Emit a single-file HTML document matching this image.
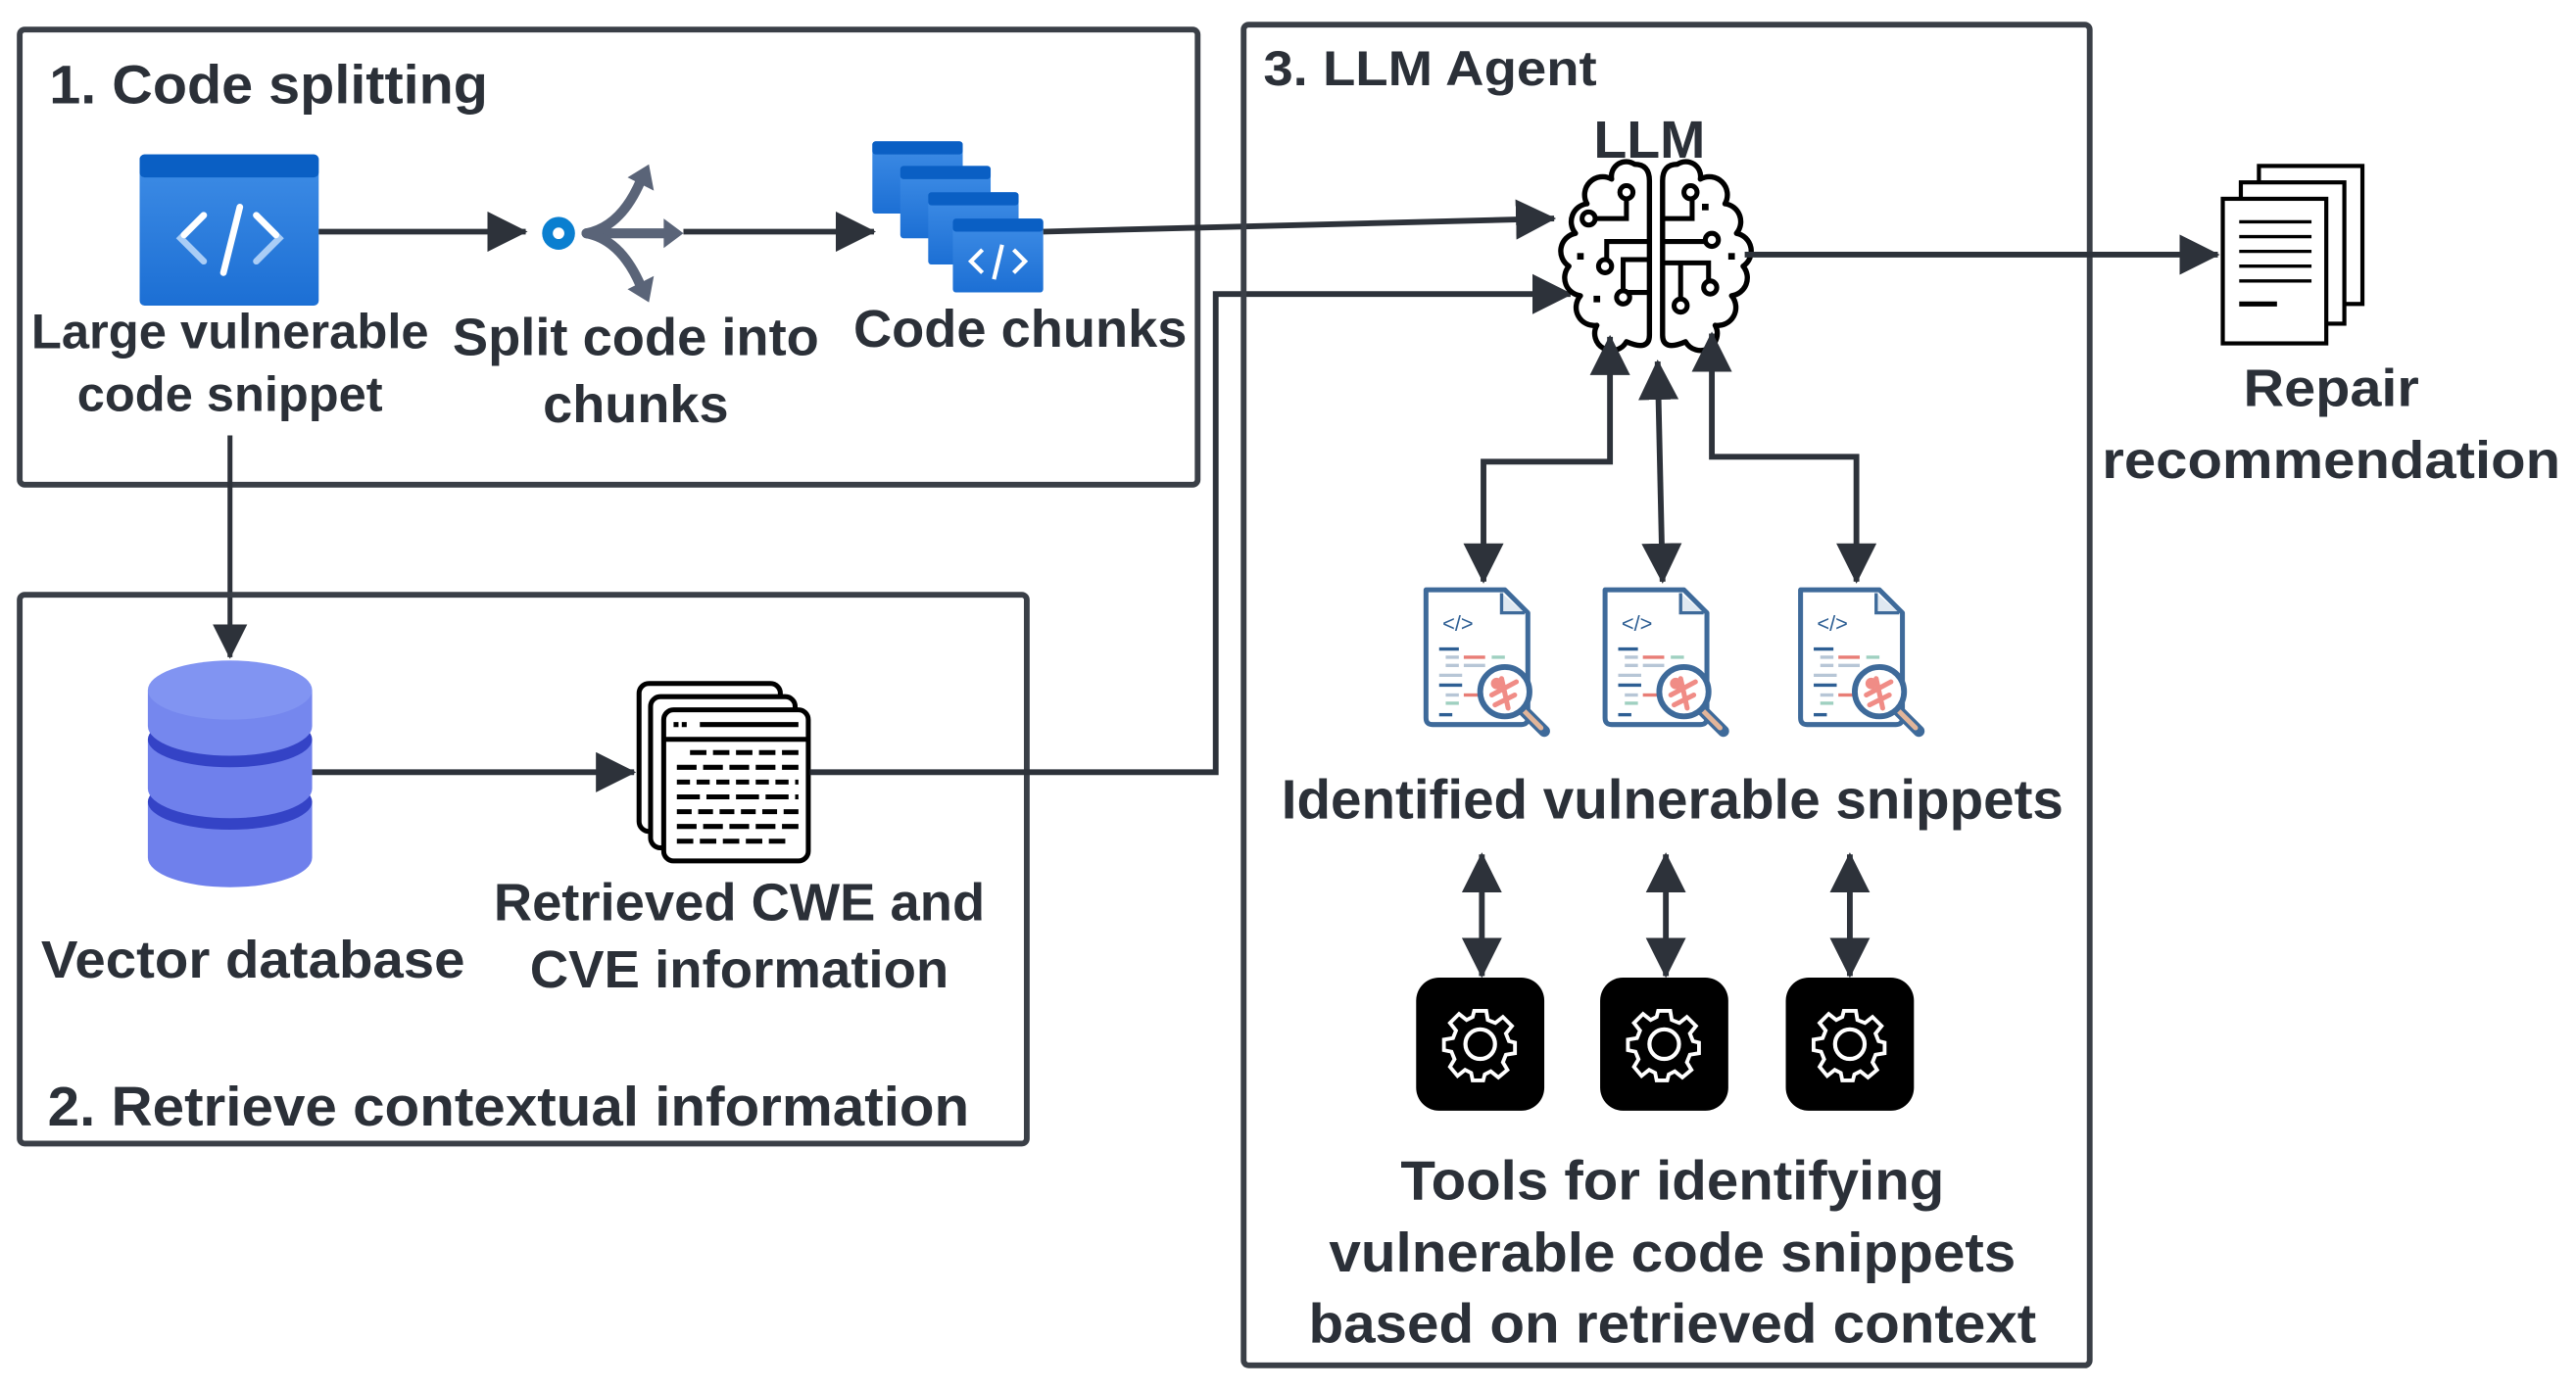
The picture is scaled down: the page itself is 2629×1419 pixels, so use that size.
<!DOCTYPE html>
<html><head><meta charset="utf-8"><style>
html,body{margin:0;padding:0;background:#fff;width:2629px;height:1419px;overflow:hidden}
svg{display:block}
text{font-family:"Liberation Sans",Arial,sans-serif;font-weight:bold;fill:#2b3038}
</style></head><body>
<svg width="2629" height="1419" viewBox="0 0 1568 846" preserveAspectRatio="none" xmlns="http://www.w3.org/2000/svg">
<defs>
<marker id="ah" viewBox="0 0 20 20" refX="19" refY="10" markerWidth="7" markerHeight="7" orient="auto-start-reverse" markerUnits="strokeWidth">
<path d="M0,0 L20,10 L0,20 Z" fill="#2d323a"/></marker>
<linearGradient id="bl" x1="0" y1="0" x2="0" y2="1"><stop offset="0" stop-color="#3f8de6"/><stop offset="1" stop-color="#1c6fd4"/></linearGradient>
<g id="win">
<rect x="0" y="0" width="55" height="44" rx="2" fill="url(#bl)"/>
<rect x="0" y="0" width="55" height="8" rx="2" fill="#0a5fc4"/>
</g>
<g id="vdoc">
<path d="M2,2 H50 L64,16 V80 Q64,84 60,84 H6 Q2,84 2,80 Z" fill="#fff" stroke="#3e6a9a" stroke-width="3" stroke-linejoin="round"/>
<path d="M48,4 V16 H62" fill="#dfe8f1" stroke="#3e6a9a" stroke-width="2"/>
<text x="12" y="27" style="font-size:13px;fill:#2e5f94;font-weight:normal">&lt;/&gt;</text>
<g stroke-width="2">
<line x1="10" y1="38" x2="22" y2="38" stroke="#2e5f94"/>
<line x1="14" y1="43" x2="22" y2="43" stroke="#b7c6d6"/><line x1="25" y1="43" x2="38" y2="43" stroke="#e87d76"/><line x1="42" y1="43" x2="50" y2="43" stroke="#9fd0c0"/>
<line x1="14" y1="48" x2="22" y2="48" stroke="#b7c6d6"/><line x1="25" y1="48" x2="38" y2="48" stroke="#b7c6d6"/>
<line x1="10" y1="54" x2="24" y2="54" stroke="#b7c6d6"/>
<line x1="10" y1="60" x2="24" y2="60" stroke="#2e5f94"/>
<line x1="14" y1="66" x2="22" y2="66" stroke="#b7c6d6"/><line x1="25" y1="66" x2="34" y2="66" stroke="#e87d76"/>
<line x1="14" y1="71" x2="22" y2="71" stroke="#9fd0c0"/>
<line x1="10" y1="78" x2="18" y2="78" stroke="#2e5f94"/>
</g>
<line x1="60" y1="74" x2="74" y2="88" stroke="#3e6a9a" stroke-width="7" stroke-linecap="round"/>
<line x1="62" y1="76" x2="72" y2="86" stroke="#e2b59a" stroke-width="3" stroke-linecap="round"/>
<circle cx="50" cy="64" r="15" fill="#fff" stroke="#3e6a9a" stroke-width="3.5"/>
<g stroke="#f08c86" stroke-width="3" stroke-linecap="round"><line x1="42" y1="66" x2="57" y2="58"/><line x1="48" y1="56" x2="52" y2="74"/><line x1="44" y1="72" x2="56" y2="66"/></g>
<circle cx="45" cy="59" r="3.5" fill="#f08c86"/>
</g>
<g id="gear">
<rect x="0" y="0" width="78" height="81" rx="14" fill="#000"/>
<g transform="translate(39,40.5)" fill="none" stroke="#fff" stroke-width="2.5">
<path d="M-4,-22 H4 L5,-16 L10,-14 L15,-18 L21,-12 L17,-7 L19,-2 L23,-1 V6 L17,7 L15,12 L18,17 L12,22 L7,18 L3,20 L2,24 H-5 L-6,19 L-10,17 L-15,21 L-20,15 L-17,10 L-19,5 L-24,4 V-3 L-18,-4 L-16,-9 L-20,-14 L-14,-20 L-9,-16 L-5,-18 Z" transform="scale(0.92)"/>
<circle r="9"/>
</g>
</g>
</defs>

<!-- Box 1 -->
<rect x="12" y="18" width="717" height="277" rx="3" fill="none" stroke="#3a3f47" stroke-width="3.5"/>
<text x="30" y="63" style="font-size:33px" textLength="267" lengthAdjust="spacingAndGlyphs">1. Code splitting</text>

<!-- code icon -->
<rect x="85" y="94" width="109" height="92" rx="3" fill="url(#bl)"/>
<rect x="85" y="94" width="109" height="14" rx="3" fill="#0a5fc4"/>
<g stroke="#fff" stroke-width="4" fill="none" stroke-linecap="round">
<polyline points="124,131 110,145 124,159" stroke="#a9cdf6"/><polyline points="156,131 170,145 156,159" stroke="#a9cdf6"/>
<polyline points="124,131 112,143"/><polyline points="156,131 168,143"/>
<line x1="146" y1="126" x2="136" y2="166"/>
</g>

<line x1="194" y1="141" x2="320" y2="141" stroke="#2d323a" stroke-width="3.5" marker-end="url(#ah)"/>
<!-- split icon -->
<circle cx="340" cy="142" r="10" fill="#0a7fd0"/><circle cx="340" cy="142" r="3.5" fill="#fff"/>
<g stroke="#5a6478" stroke-width="6" fill="none" stroke-linecap="round">
<path d="M357,142 Q378,138 390,110"/><path d="M357,142 H408"/><path d="M357,142 Q378,146 390,174"/>
</g>
<g fill="#5a6478"><path d="M382,108 L395,100 L398,116 Z"/><path d="M404,133 L416,142 L404,151 Z"/><path d="M382,176 L395,184 L398,168 Z"/></g>
<line x1="416" y1="141" x2="532" y2="141" stroke="#2d323a" stroke-width="3.5" marker-end="url(#ah)"/>

<!-- chunks -->
<use href="#win" x="531" y="86"/>
<use href="#win" x="548" y="101"/>
<use href="#win" x="565" y="117"/>
<rect x="580" y="133" width="55" height="45" rx="2" fill="url(#bl)"/>
<rect x="580" y="133" width="55" height="8" rx="2" fill="#0a5fc4"/>
<g stroke="#fff" stroke-width="2.5" fill="none"><polyline points="598,152 591,159 598,166"/><polyline points="617,152 624,159 617,166"/><line x1="610" y1="149" x2="605" y2="170"/></g>

<text x="140" y="212" text-anchor="middle" style="font-size:30px" textLength="242" lengthAdjust="spacingAndGlyphs">Large vulnerable</text>
<text x="140" y="250" text-anchor="middle" style="font-size:30px" textLength="186" lengthAdjust="spacingAndGlyphs">code snippet</text>
<text x="387" y="216" text-anchor="middle" style="font-size:32px" textLength="223" lengthAdjust="spacingAndGlyphs">Split code into</text>
<text x="387" y="257" text-anchor="middle" style="font-size:32px" textLength="113" lengthAdjust="spacingAndGlyphs">chunks</text>
<text x="621" y="211" text-anchor="middle" style="font-size:32px" textLength="203" lengthAdjust="spacingAndGlyphs">Code chunks</text>

<!-- chunks to LLM -->
<path d="M635,141 L946,133" stroke="#2d323a" stroke-width="3.5" fill="none" marker-end="url(#ah)"/>
<!-- down to DB -->
<line x1="140" y1="265" x2="140" y2="400" stroke="#2d323a" stroke-width="3" marker-end="url(#ah)"/>

<!-- Box 2 -->
<rect x="12" y="362" width="613" height="334" rx="3" fill="none" stroke="#3a3f47" stroke-width="3.5"/>
<!-- DB -->
<g>
<path d="M90,488 V522 A50,18 0 0 0 190,522 V488 Z" fill="#6f80ec"/>
<ellipse cx="140" cy="488" rx="50" ry="17" fill="#3443c6"/>
<path d="M90,450 V480 A50,18 0 0 0 190,480 V450 Z" fill="#6f80ec"/>
<ellipse cx="140" cy="450" rx="50" ry="17" fill="#3443c6"/>
<path d="M90,420 V442 A50,18 0 0 0 190,442 V420 Z" fill="#7587ee"/>
<ellipse cx="140" cy="420" rx="50" ry="18" fill="#8194f2"/>
</g>
<line x1="190" y1="470" x2="386" y2="470" stroke="#2d323a" stroke-width="3.5" marker-end="url(#ah)"/>
<!-- doc stack -->
<g fill="#fff" stroke="#000" stroke-width="3">
<rect x="389" y="416" width="86" height="90" rx="6"/>
<rect x="396" y="424" width="88" height="92" rx="6"/>
<rect x="404" y="432" width="88" height="92" rx="6"/>
</g>
<g stroke="#000" stroke-width="3">
<line x1="404" y1="450" x2="492" y2="450"/>
<line x1="410" y1="441" x2="418" y2="441" stroke-dasharray="3 2"/><line x1="426" y1="441" x2="486" y2="441"/>
<line x1="420" y1="458" x2="486" y2="458" stroke-dasharray="10 4"/>
<line x1="412" y1="467" x2="486" y2="467" stroke-dasharray="12 4"/>
<line x1="412" y1="476" x2="486" y2="476" stroke-dasharray="8 4"/>
<line x1="412" y1="485" x2="486" y2="485" stroke-dasharray="14 4"/>
<line x1="412" y1="494" x2="486" y2="494" stroke-dasharray="9 4"/>
<line x1="412" y1="503" x2="486" y2="503" stroke-dasharray="12 4"/>
<line x1="412" y1="512" x2="480" y2="512" stroke-dasharray="10 4"/>
</g>
<text x="154" y="595" text-anchor="middle" style="font-size:32px" textLength="258" lengthAdjust="spacingAndGlyphs">Vector database</text>
<text x="450" y="560" text-anchor="middle" style="font-size:32px" textLength="299" lengthAdjust="spacingAndGlyphs">Retrieved CWE and</text>
<text x="450" y="601" text-anchor="middle" style="font-size:32px" textLength="255" lengthAdjust="spacingAndGlyphs">CVE information</text>
<text x="29" y="685" style="font-size:34px" textLength="561" lengthAdjust="spacingAndGlyphs">2. Retrieve contextual information</text>

<!-- retrieved to LLM -->
<path d="M493,470 H740 V179 H956" stroke="#2d323a" stroke-width="3.5" fill="none" marker-end="url(#ah)"/>

<!-- Box 3 -->
<rect x="757" y="15" width="515" height="816" rx="3" fill="none" stroke="#3a3f47" stroke-width="3.5"/>
<text x="769" y="52" style="font-size:30px" textLength="203" lengthAdjust="spacingAndGlyphs">3. LLM Agent</text>
<text x="1004" y="96" text-anchor="middle" style="font-size:32px" textLength="68" lengthAdjust="spacingAndGlyphs">LLM</text>

<!-- brain -->
<g fill="#fff" stroke="#000" stroke-width="3.2" stroke-linejoin="round">
<path d="M1004,110 Q1004,100 995,100 A9,9 0 0 0 981,109 A11,11 0 0 0 966,124 A11,11 0 0 0 959,142 A11,11 0 0 0 955,162 A11,11 0 0 0 962,180 A11,11 0 0 0 972,198 A10,10 0 0 0 990,208 Q1004,214 1004,204 Z"/>
<path d="M1012,110 Q1012,100 1021,100 A9,9 0 0 1 1035,109 A11,11 0 0 1 1050,124 A11,11 0 0 1 1057,142 A11,11 0 0 1 1061,162 A11,11 0 0 1 1054,180 A11,11 0 0 1 1044,198 A10,10 0 0 1 1026,208 Q1012,214 1012,204 Z"/>
</g>
<g fill="none" stroke="#000" stroke-width="3">
<path d="M971,133 H990 V121"/><path d="M1004,147 H978 V158"/><path d="M1004,158 H988 V178 H1004"/>
<path d="M1012,133 H1030 V121"/><path d="M1012,147 H1040"/><path d="M1012,160 H1040 V171"/><path d="M1023,160 V182"/>
</g>
<g fill="#fff" stroke="#000" stroke-width="3">
<circle cx="990" cy="117" r="4"/><circle cx="967" cy="133" r="4"/><circle cx="977" cy="162" r="4"/><circle cx="988" cy="181" r="4"/>
<circle cx="1029" cy="117" r="4"/><circle cx="1042" cy="146" r="4"/><circle cx="1041" cy="175" r="4"/><circle cx="1023" cy="186" r="4"/>
</g>
<g fill="#000"><rect x="960" y="154" width="4" height="4"/><rect x="970" y="180" width="4" height="4"/><rect x="1036" y="124" width="4" height="4"/><rect x="1052" y="154" width="4" height="4"/></g>

<!-- output -->
<line x1="1062" y1="155" x2="1350" y2="155" stroke="#2d323a" stroke-width="3.5" marker-end="url(#ah)"/>
<g fill="#fff" stroke="#000" stroke-width="2.5">
<rect x="1375" y="101" width="63" height="84"/>
<rect x="1364" y="111" width="63" height="86"/>
<rect x="1353" y="121" width="63" height="88"/>
</g>
<g stroke="#000" stroke-width="2"><line x1="1363" y1="135" x2="1407" y2="135"/><line x1="1363" y1="144" x2="1407" y2="144"/><line x1="1363" y1="153" x2="1407" y2="153"/><line x1="1363" y1="162" x2="1407" y2="162"/><line x1="1363" y1="171" x2="1407" y2="171"/><line x1="1363" y1="185" x2="1386" y2="185" stroke-width="3"/></g>
<text x="1419" y="247" text-anchor="middle" style="font-size:32px" textLength="107" lengthAdjust="spacingAndGlyphs">Repair</text>
<text x="1419" y="291" text-anchor="middle" style="font-size:32px" textLength="279" lengthAdjust="spacingAndGlyphs">recommendation</text>

<!-- LLM <-> docs -->
<g stroke="#2d323a" stroke-width="3.5" fill="none">
<path d="M980,205 V281 H903 V354" marker-start="url(#ah)" marker-end="url(#ah)"/>
<path d="M1009,220 L1012,354" marker-start="url(#ah)" marker-end="url(#ah)"/>
<path d="M1042,203 V278 H1130 V354" marker-start="url(#ah)" marker-end="url(#ah)"/>
</g>
<use href="#vdoc" x="866" y="357"/>
<use href="#vdoc" x="975" y="357"/>
<use href="#vdoc" x="1094" y="357"/>
<text x="1018" y="498" text-anchor="middle" style="font-size:34px" textLength="476" lengthAdjust="spacingAndGlyphs">Identified vulnerable snippets</text>

<g stroke="#2d323a" stroke-width="3.5" fill="none">
<line x1="902" y1="520" x2="902" y2="594" marker-start="url(#ah)" marker-end="url(#ah)"/>
<line x1="1014" y1="520" x2="1014" y2="594" marker-start="url(#ah)" marker-end="url(#ah)"/>
<line x1="1126" y1="520" x2="1126" y2="594" marker-start="url(#ah)" marker-end="url(#ah)"/>
</g>
<use href="#gear" x="862" y="595"/>
<use href="#gear" x="974" y="595"/>
<use href="#gear" x="1087" y="595"/>

<text x="1018" y="730" text-anchor="middle" style="font-size:34px" textLength="331" lengthAdjust="spacingAndGlyphs">Tools for identifying</text>
<text x="1018" y="774" text-anchor="middle" style="font-size:34px" textLength="418" lengthAdjust="spacingAndGlyphs">vulnerable code snippets</text>
<text x="1018" y="817" text-anchor="middle" style="font-size:34px" textLength="443" lengthAdjust="spacingAndGlyphs">based on retrieved context</text>
</svg>
</body></html>
